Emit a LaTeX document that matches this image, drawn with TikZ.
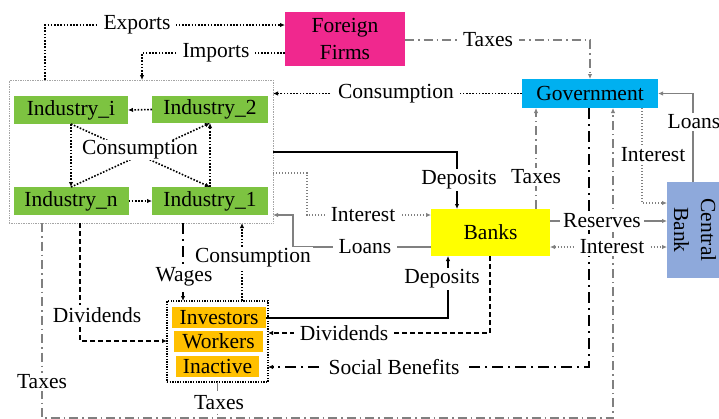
\documentclass[tikz,border=0pt]{standalone}
\usepackage{fontspec}
\setmainfont{Liberation Serif}
\usetikzlibrary{arrows.meta}
\definecolor{ffpink}{RGB}{240,40,142}
\definecolor{indgreen}{RGB}{125,195,65}
\definecolor{govcyan}{RGB}{0,176,240}
\definecolor{bankyellow}{RGB}{255,255,0}
\definecolor{cbblue}{RGB}{142,169,219}
\definecolor{hhorange}{RGB}{255,192,0}
\definecolor{lgray}{RGB}{128,128,128}
\definecolor{boxgray}{RGB}{165,165,165}
\tikzset{
  box/.style={inner sep=0pt, outer sep=0pt, align=center},
  lbl/.style={fill=white, inner xsep=6pt, inner ysep=2pt, text=black},
  tip/.style={-{Latex[length=5pt,width=4.5pt]}},
  bdot/.style={tip, black, line width=1.6pt, dash pattern=on 1.6pt off 1.6pt},
  gdot/.style={tip, lgray, line width=1.1pt, dash pattern=on 1.2pt off 1.8pt},
  gdd/.style={tip, lgray, line width=1.3pt, dash pattern=on 9pt off 4pt on 1.5pt off 4pt},
  bdd/.style={tip, black, line width=2pt, dash pattern=on 11pt off 5pt on 2pt off 5pt},
  bdash/.style={tip, black, line width=1.6pt, dash pattern=on 5pt off 3pt},
  bsolid/.style={tip, black, line width=2pt},
  gsolid/.style={tip, lgray, line width=1.5pt},
}
\begin{document}
\begin{tikzpicture}[x=1pt,y=-1pt,font=\fontsize{21.5}{27}\selectfont]
\useasboundingbox (0,0) rectangle (719,418);

% industries block
\node[box, draw=boxgray, line width=0.7pt, densely dotted, minimum width=264pt, minimum height=143pt] (big) at (141,151.5) {};
\node[box, fill=indgreen, minimum width=114pt, minimum height=28pt] (ii) at (71,110) {Industry\_i};
\node[box, fill=indgreen, minimum width=116pt, minimum height=27pt] (i2) at (210,109.5) {Industry\_2};
\node[box, fill=indgreen, minimum width=115pt, minimum height=28pt] (in) at (71,201) {Industry\_n};
\node[box, fill=indgreen, minimum width=116pt, minimum height=28pt] (i1) at (210,201) {Industry\_1};

% other sectors
\node[box, fill=ffpink, minimum width=120pt, minimum height=54pt] (ff) at (345,39) {Foreign\\Firms};
\node[box, fill=govcyan, minimum width=136pt, minimum height=29pt] (gov) at (590,93.5) {Government};
\node[box, fill=bankyellow, minimum width=119pt, minimum height=47pt] (banks) at (490.5,232.5) {Banks};
\node[box, fill=cbblue, minimum width=56pt, minimum height=96pt] (cb) at (695,230) {};
\node[box, rotate=-90] (cbtext) at (cb.center) {Central\\Bank};

% households
\node[box, draw=black, line width=1.2pt, dash pattern=on 1.3pt off 1.3pt, minimum width=101pt, minimum height=81pt] (hh) at (217.5,341.5) {};
\node[box, fill=hhorange, minimum width=94pt, minimum height=21pt] (inv) at (219,317.5) {Investors};
\node[box, fill=hhorange, minimum width=89pt, minimum height=21pt] (wrk) at (218.5,341.5) {Workers};
\node[box, fill=hhorange, minimum width=83pt, minimum height=21pt] (ina) at (217.5,366.5) {Inactive};

% flows inside the industries block
\draw[bdot] (i2.west) -- (ii.east);
\draw[bdot] (in.east) -- (i1.west);
\draw[bdot] (ii.south) -- (in.north);
\draw[bdot] (ii.south) -- (i1.north);
\draw[bdot] (in.north) -- (i2.south);
\draw[bdot] (i1.north) -- (i2.south);

% foreign trade
\draw[bdot] (45,0 |- big.north) -- (45,25) -- (ff.west |- 0,25);
\draw[bdot] (ff.west |- 0,53) -- (142,53) -- (142,0 |- big.north);
\draw[gdd] (ff.east |- 0,40) -| (gov.north);

% government
\draw[bdot] (gov.west) -- (big.east |- gov.west);
\draw[gsolid] (693,0 |- cb.north) |- (gov.east);
\draw[gdot] (642,0 |- gov.south) |- (cb.west |- 0,203);
\draw[gdd] (536,0 |- banks.north) -- (536,0 |- gov.south);
\draw[bdd] (589,0 |- gov.south) |- (hh.east |- 0,367);
\draw[gdd] (42,0 |- big.south) |- (613,418) -- (613,0 |- gov.south);
\draw[gdd, -] (hh.south) -- (hh.south |- 0,418);

% banks
\draw[gsolid] (banks.east |- 0,221) -- (cb.west |- 0,221);
\draw[gdot, {Latex[length=5pt,width=4.5pt]}-{Latex[length=5pt,width=4.5pt]}] (banks.east |- 0,247) -- (cb.west |- 0,247);
\draw[bsolid] (big.east |- 0,152) -- (457,152) -- (457,0 |- banks.north);
\draw[gdot] (big.east |- 0,173) -- (307,173) -- (307,215) -- (banks.west |- 0,215);
\draw[gsolid] (banks.west |- 0,247) -- (293,247) -- (293,215) -- (big.east |- 0,215);
\draw[bsolid] (inv.east) -| (448,0 |- banks.south);
\draw[bdash] (490,0 |- banks.south) |- (hh.east |- 0,333);

% households and industries
\draw[bdd] (183,0 |- big.south) -- (183,0 |- hh.north);
\draw[bdot] (242,0 |- hh.north) -- (242,0 |- big.south);
\draw[bdash] (80,0 |- big.south) |- (hh.west |- 0,341);

% flow labels
\node[lbl] (lexp) at (137,25) {Exports};
\node[lbl] (limp) at (216,53) {Imports};
\node[lbl] (ltaxff) at (488,40) {Taxes};
\node[lbl] (lcongov) at (396,94) {Consumption};
\node[lbl, inner sep=0.5pt] (lconind) at (140,150) {Consumption};
\node[lbl, inner xsep=2pt] (ldepind) at (459,180) {Deposits};
\node[lbl, inner xsep=2pt] (ltaxbank) at (536,177) {Taxes};
\node[lbl, inner xsep=3pt] (lintgov) at (653,155) {Interest};
\node[lbl, inner xsep=1pt] (lloancb) at (694,122) {Loans};
\node[lbl] (lintind) at (363,215) {Interest};
\node[lbl] (lloanind) at (365,247) {Loans};
\node[lbl, inner xsep=3pt] (lres) at (602,221) {Reserves};
\node[lbl] (lintcb) at (612,247) {Interest};
\node[lbl, inner xsep=2pt] (lwage) at (184,277) {Wages};
\node[lbl, inner xsep=2pt] (lconhh) at (253,258) {Consumption};
\node[lbl, inner xsep=2pt] (ldivind) at (97,315) {Dividends};
\node[lbl] (ldivbank) at (344,333) {Dividends};
\node[lbl, inner xsep=2pt] (ldephh) at (442,279) {Deposits};
\node[lbl] (lsoc) at (394,367) {Social Benefits};
\node[lbl, inner xsep=2pt] (ltaxind) at (42,382) {Taxes};
\node[lbl, inner xsep=2pt] (ltaxhh) at (219,403) {Taxes};
\end{tikzpicture}
\end{document}
